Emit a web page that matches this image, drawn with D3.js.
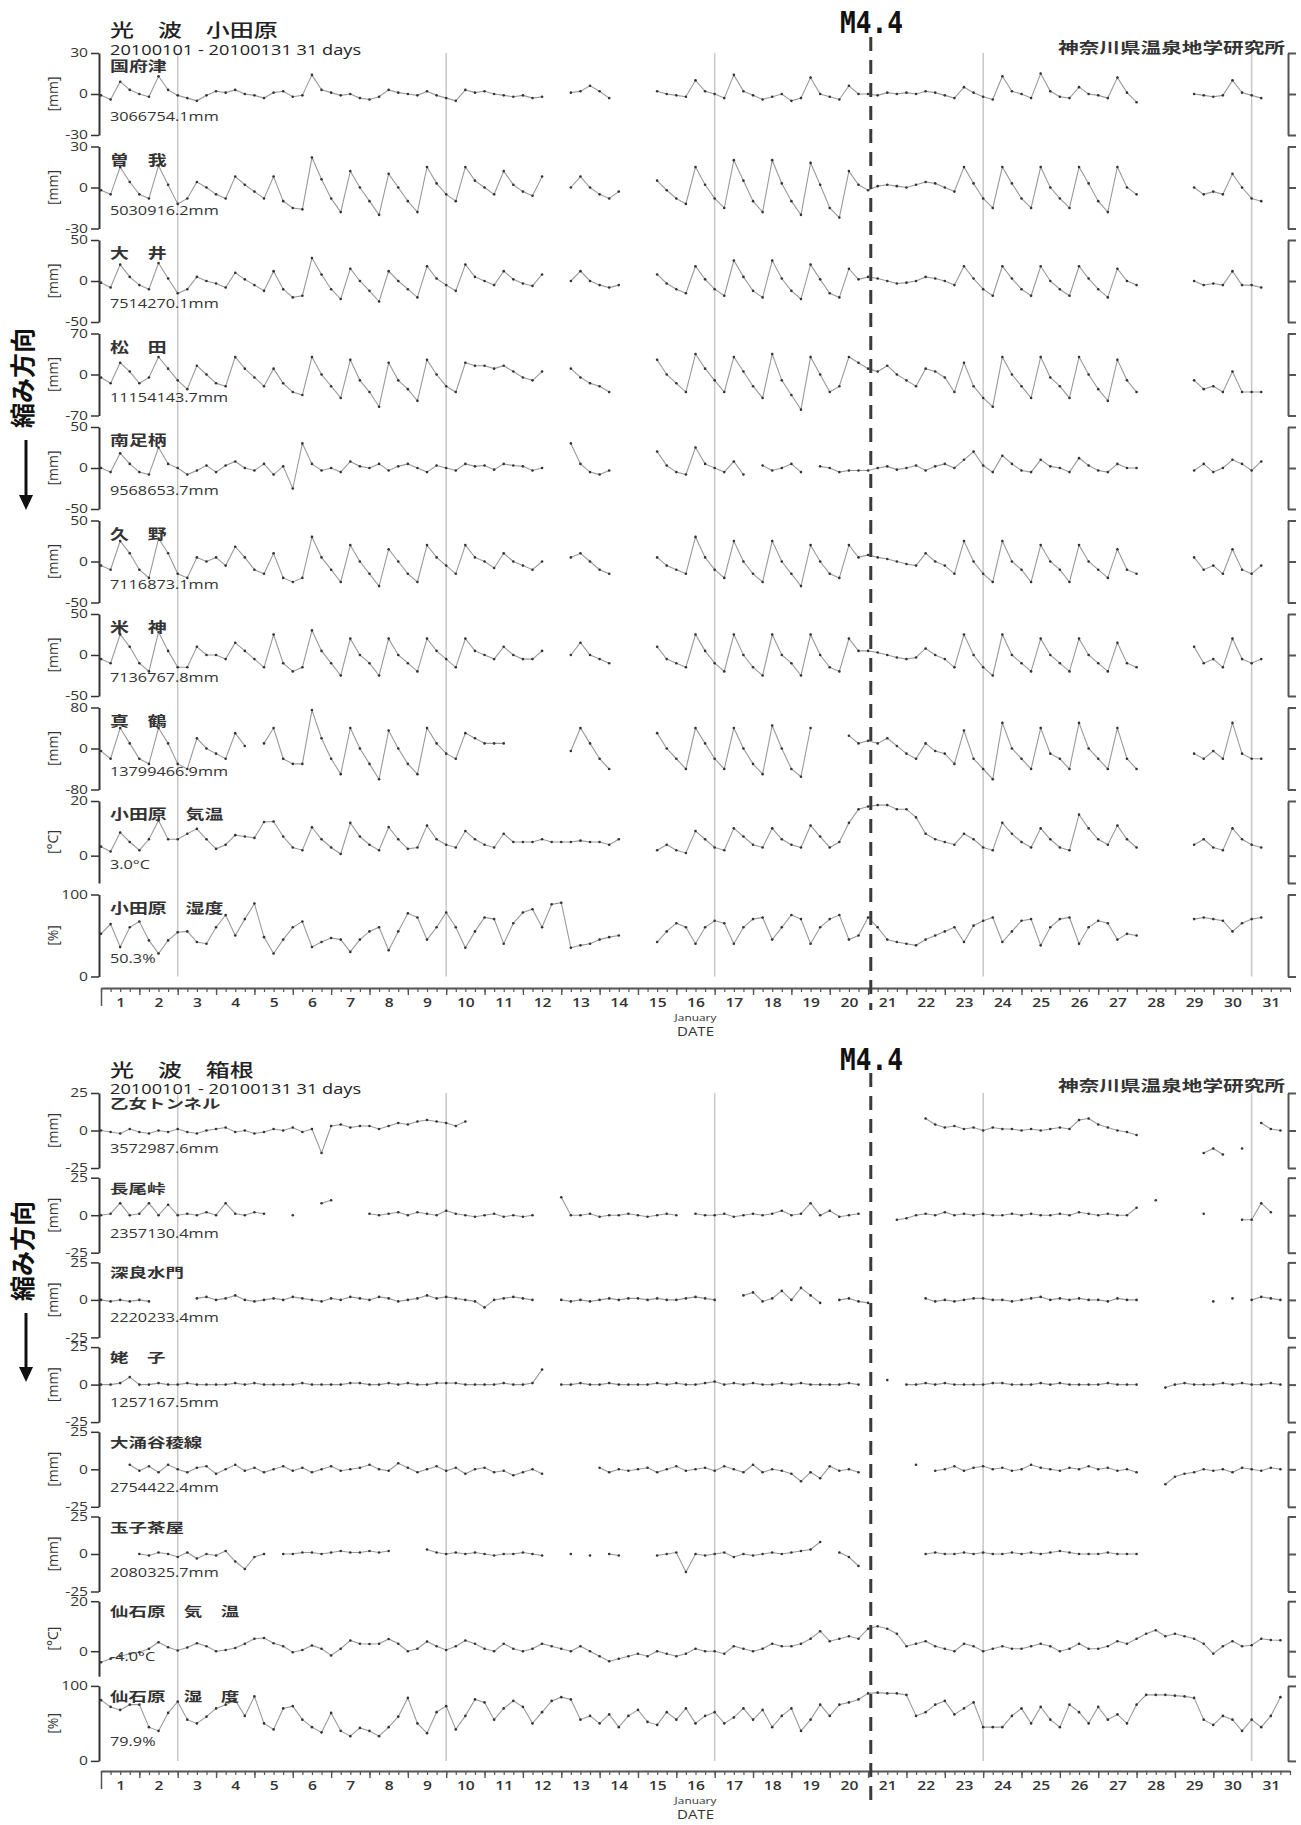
<!DOCTYPE html>
<html>
<head>
<meta charset="utf-8">
<script src="https://cdn.jsdelivr.net/npm/d3@7"></script>
<style>
body { margin: 0; background: #fff; }
svg { display: block; }
</style>
</head>
<body>
<svg id="chart"></svg>
<script>
const N = null;
// 4 samples a day (0h, 6h, 12h, 18h), 2010-01-01 .. 2010-01-31

// ---- 光波 小田原 ----
const kozu = [-1,-4,9,3, 0,-2,13,3, -1,-3,-5,-1, 2,1,3,0, -1,-3,1,2, -2,-1,14,3, 1,-1,0,-3, -4,-2,3,1,
  0,-1,2,-1, -3,-5,3,1, 2,0,-1,-2, -1,-3,-2,N, N,1,2,6, 2,-3,N,N, N,N,2,0, -1,-2,10,2,
  0,-3,14,2, -1,-4,-2,0, -5,-3,12,0, -2,-4,6,0, 0,-1,1,0, 1,0,2,1, -1,-3,5,1, -2,-4,13,2,
  0,-3,15,2, -2,-3,5,0, -1,-3,12,1, -6,N,N,N, N,N,0,-1, -2,-1,10,1, -1,-3,N,N];
const soga = [-2,-5,15,4, -5,-8,16,2, -12,-8,4,0, -5,-8,8,2, -3,-8,8,-10, -15,-16,22,6, -8,-18,12,0, -10,-20,10,0,
  -10,-18,15,3, -5,-10,15,5, 0,-5,12,2, -3,-6,8,N, N,0,8,0, -5,-8,-3,N, N,N,5,-2, -8,-12,15,2,
  -8,-15,20,5, -10,-18,20,3, -10,-20,18,2, -15,-22,12,2, -2,1,2,1, 0,2,4,3, 0,-3,15,3, -8,-15,15,3,
  -8,-15,15,0, -8,-15,15,3, -10,-18,15,0, -5,N,N,N, N,N,0,-5, -3,-5,10,0, -8,-10,N,N];
const ooi = [-2,-8,20,5, -5,-10,22,3, -15,-10,5,0, -3,-8,10,2, -5,-12,12,-10, -20,-18,28,8, -10,-22,15,0, -12,-25,12,0,
  -10,-20,18,3, -5,-12,20,5, 0,-5,12,2, -3,-6,8,N, N,0,12,0, -5,-8,-5,N, N,N,8,-3, -10,-15,18,2,
  -10,-18,25,5, -12,-20,25,3, -12,-22,20,2, -15,-20,15,2, 5,3,0,-3, -2,0,5,3, 0,-5,18,3, -10,-18,18,3,
  -10,-18,18,0, -10,-18,18,3, -10,-20,15,0, -5,N,N,N, N,N,0,-5, -3,-5,12,-5, -5,-8,N,N];
const matsuda = [-5,-15,20,5, -15,-5,30,10, -10,-25,15,0, -15,-20,30,10, -5,-20,10,-15, -30,-35,30,0, -20,-40,25,-10, -30,-55,20,-10,
  -25,-45,25,0, -20,-30,20,15, 15,10,15,5, -5,-10,5,N, N,10,-5,-15, -20,-30,N,N, N,N,25,0, -15,-30,35,10,
  -10,-30,30,5, -20,-40,35,-10, -35,-60,30,0, -30,-20,30,20, 10,5,15,0, -10,-20,10,5, -5,-30,20,-20, -40,-55,30,0,
  -20,-40,30,-5, -20,-40,30,0, -25,-45,25,-10, -30,N,N,N, N,N,-10,-25, -20,-30,5,-30, -30,-30,N,N];
const minami = [0,-5,18,5, -5,-8,25,5, 0,-8,-3,3, -5,3,8,0, -3,5,-8,2, -25,30,5,-3, 0,-5,8,2, 0,5,-3,2,
  5,0,-5,3, 0,-3,5,2, 3,-2,5,3, 2,-3,0,N, N,30,5,-5, -8,-3,N,N, N,N,20,3, -5,-8,25,5,
  0,-5,8,-8, N,3,-3,0, 5,-5,N,2, 0,-5,-3,-3, -3,0,2,-2, 0,3,-3,2, 5,0,10,20, 3,-5,15,5,
  -3,-5,10,2, 0,-5,12,3, -3,-5,5,0, 0,N,N,N, N,N,-3,5, -5,0,10,5, -3,8,N,N];
const kuno = [-5,-10,25,10, -10,-20,28,10, -15,-20,5,0, 5,-5,18,5, -10,-15,10,-20, -25,-20,30,5, -10,-25,20,0, -15,-30,15,0,
  -15,-25,20,5, -5,-15,20,5, 0,-8,10,0, -5,-10,0,N, N,5,10,0, -10,-15,N,N, N,N,5,-5, -10,-15,30,5,
  -10,-20,25,0, -15,-25,25,0, -15,-30,20,0, -15,-20,20,5, 8,5,3,0, -3,-5,10,0, -5,-15,25,0, -15,-25,25,0,
  -10,-25,20,0, -10,-25,20,0, -10,-20,15,-10, -15,N,N,N, N,N,5,-10, -5,-15,15,-10, -15,-5,N,N];
const komekami = [-5,-10,25,10, -10,-20,28,5, -15,-15,10,0, 0,-5,15,5, -5,-15,25,-10, -20,-15,30,5, -10,-25,20,0, -10,-25,20,0,
  -10,-20,20,5, -5,-15,20,5, 0,-5,10,0, -5,-5,5,N, N,0,15,0, -5,-10,N,N, N,N,10,-5, -10,-15,25,5,
  -10,-20,25,0, -15,-25,25,0, -10,-25,25,0, -15,-20,20,5, 5,3,0,-3, -5,-3,8,0, -5,-15,25,0, -15,-25,25,0,
  -10,-20,20,0, -10,-20,20,0, -10,-20,15,-10, -15,N,N,N, N,N,10,-10, -5,-15,20,-5, -10,-5,N,N];
const manazuru = [-5,-20,40,10, -20,-30,40,10, -30,-40,20,0, -10,-20,30,5, N,10,40,-20, -30,-30,75,20, -20,-50,40,0, -30,-60,35,0,
  -30,-50,40,10, -10,-20,30,20, 10,10,10,N, N,N,N,N, N,-5,40,10, -20,-40,N,N, N,N,30,0, -20,-40,40,10,
  -20,-40,40,0, -30,-50,45,0, -40,-55,40,N, N,N,25,10, 15,10,20,5, -10,-20,10,-5, -10,-30,35,-20, -40,-60,50,0,
  -20,-40,40,-10, -20,-40,50,0, -20,-40,40,-20, -40,N,N,N, N,N,-10,-20, -5,-20,50,-10, -20,-20,N,N];
const odaTemp = [3.3,1.5,8.5,5, 2,6,12.9,6, 6,8,9.8,6, 2.5,4,7.5,7, 6.5,12.3,12.5,7, 3,2,10.4,6, 3,0.6,12,7, 4,2,10.5,6,
  2.5,3,11,6, 4,3,9,6, 4,3,8,5, 5,5,6,5, 5,5,5.5,5, 5,4,6,N, N,N,2,4, 2,1,9,6,
  3,2,10,7, 4,3,10,6, 4,3,11,7, 3,5,12,17, 18,18.5,18.5,17, 17,14,8,6, 5,4,8,6, 3,2,12,8,
  5,3,10,6, 3,2,15,10, 6,4,11,6, 3,N,N,N, N,N,4,6, 3,2,10,6, 4,3,N,N];
const odaHum = [52,64,36,60, 67,44,28,44, 54,55,42,40, 60,75,50,70, 89,48,28,45, 60,67,36,42, 47,45,30,45, 55,60,32,55,
  77,72,45,60, 78,60,35,55, 72,70,40,65, 78,82,60,88, 90,35,38,40, 45,48,50,N, N,N,42,55, 65,60,40,60,
  68,65,40,60, 70,72,45,60, 75,70,40,60, 70,75,45,50, 72,60,45,42, 40,38,45,50, 55,60,42,62, 68,72,42,55,
  68,70,38,60, 70,72,40,60, 68,65,45,52, 50,N,N,N, N,N,70,72, 70,68,55,65, 70,72,N,N];

// ---- 光波 箱根 ----
const otome = [0,-1,-2,1, -1,-2,0,-1, 1,-1,-2,0, 1,2,-1,0, -2,-1,1,0, 2,-1,1,-15, 3,4,2,3, 3,1,3,5,
  4,6,7,6, 5,3,6,N, N,N,N,N, N,N,N,N, N,N,N,N, N,N,N,N, N,N,N,N, N,N,N,N,
  N,N,N,N, N,N,N,N, N,N,N,N, N,N,N,N, N,N,N,N, N,N,8,4, 2,3,1,2, 0,2,1,1,
  0,1,0,1, 2,1,7,8, 4,2,0,-1, -3,N,N,N, N,N,N,-15, -12,-16,N,-12, N,5,1,0];
const nagao = [0,1,8,0, 1,8,0,7, 0,1,0,2, 0,8,1,0, 2,1,N,N, 0,N,N,8, 10,N,N,N, 1,0,1,2,
  0,2,1,0, 3,1,0,-1, 0,1,-1,0, -1,0,N,N, 12,0,0,1, -1,0,0,1, 0,-1,0,1, 0,N,1,0,
  0,1,-1,0, 1,0,1,3, 0,1,8,0, 3,-1,0,1, N,N,N,-3, -2,0,1,0, 2,0,1,0, 1,0,0,1,
  0,1,0,0, 1,0,2,1, 0,1,0,0, 5,N,10,N, N,N,N,1, N,N,N,-3, -3,8,2,N];
const fukara = [0,-1,0,-1, 0,-1,N,N, N,N,1,2, 0,1,3,0, -1,0,1,0, 2,1,0,-1, 1,0,2,1, 0,2,1,-1,
  0,1,3,1, 2,1,0,-1, -5,0,1,2, 1,0,N,N, 0,-1,0,-1, 0,1,0,1, 1,0,1,0, 0,1,2,1,
  0,N,N,3, 5,-1,1,6, 0,8,3,-2, N,0,1,-1, -2,N,N,N, N,N,1,-1, 0,-1,0,1, 1,0,0,-1,
  0,1,2,0, 1,0,1,0, 0,-1,1,0, 0,N,N,N, N,N,N,N, -1,N,1,N, 0,2,1,0];
const ubako = [0,0,1,5, 0,0,1,0, 0,1,0,0, 0,0,1,0, 1,0,0,0, 0,1,0,0, 0,0,1,1, 0,0,1,0,
  1,0,0,1, 1,1,0,0, 0,0,1,0, 0,1,10,N, 0,0,1,0, 0,1,0,0, 0,0,1,0, 1,0,0,1,
  2,0,1,0, 1,0,0,1, 0,1,0,0, 0,0,1,0, N,N,3,N, 0,0,1,0, 1,0,0,0, 0,1,1,0,
  0,0,1,0, 1,0,0,0, 0,1,0,0, 0,N,N,-2, 0,1,0,0, 0,1,0,1, 0,0,1,0];
const owaku = [N,N,N,3, -1,2,-2,3, 0,-2,1,2, -3,0,3,-1, 1,-2,0,2, -1,1,-2,0, 2,-1,0,1, 3,0,-1,4,
  1,-2,0,2, -1,1,-3,0, 1,-2,-1,-4, -2,0,-3,N, N,N,N,N, 1,-2,0,-1, 0,1,-2,0, 2,-1,0,1,
  -1,2,0,-2, 3,-2,0,-1, -3,-8,-2,-6, 2,-1,0,-2, N,N,N,N, N,3,N,-1, 0,2,-1,1, 2,0,1,-1,
  0,3,1,0, -1,1,0,2, 0,1,-1,0, -2,N,N,-10, -5,-3,-2,0, -1,0,-2,1, 0,-1,1,0];
const tamago = [N,N,N,N, 0,-1,1,0, -2,1,-3,0, -1,2,-5,-10, -2,0,N,0, 0,1,1,0, 1,2,1,1, 2,1,2,N,
  N,N,3,1, 0,1,0,1, 0,-1,0,0, 1,0,-1,N, N,0,N,-1, N,0,-1,N, N,N,-1,0, 1,-12,0,-1,
  0,1,-2,0, -1,0,1,0, 1,2,3,8, N,1,-2,-8, N,N,N,N, N,N,0,1, 0,0,1,0, 1,0,0,1,
  0,1,0,1, 2,1,0,0, 0,1,0,0, 0,N,N,N, N,N,N,N, N,N,N,N, N,N,N,N];
const sengTemp = [-4.4,-3,-2,-1, -0.4,1,3.6,1.6, 0.3,1.5,3.2,2, 0,0.5,1.3,3, 5,5.3,3.2,2, -0.4,0.5,2.3,1, -1.7,1,4.3,3, 2.9,3,4.9,3,
  0,1,3.9,2, 0.5,2,4.3,3, 1,0,3,1, 0,1,3,2, 1,0,2,0, -2,-4,-3,-2, -1,-2,0,-1, -2,-1,1,0,
  0,-1,2,1, 0,1,3,2, 2,3,5,8, 4,5,6,5, 9,10,9,7, 2,3,4,2, 1,0,3,2, 0,1,2,1,
  1,2,3,2, 0,1,3,1, 1,2,4,3, 5,7,8.4,6, 7,6,5,3, -1,2,4,2, 2.4,5,4.5,4.4];
const sengHum = [81,72,68,75, 75,45,40,64, 79,55,50,59, 70,75,81,60, 86,50,42,70, 73,55,45,38, 64,40,33,44, 40,33,45,59,
  84,50,37,65, 73,42,60,82, 78,55,70,80, 72,50,65,80, 85,82,55,60, 50,62,45,60, 68,52,48,65, 55,70,50,60,
  65,50,58,70, 55,68,45,60, 70,40,55,75, 60,75,78,82, 90,91,90,90, 88,60,65,75, 80,62,70,78, 45,45,45,60,
  70,50,72,55, 45,75,65,50, 72,55,62,50, 75,88,88,88, 87,86,84,55, 48,60,55,40, 55,45,60,85];

const odaNames = ["国府津", "曽　我", "大　井", "松　田", "南足柄", "久　野", "米　神", "真　鶴", "小田原　気温", "小田原　湿度"];
const odaValues = ["3066754.1mm", "5030916.2mm", "7514270.1mm", "11154143.7mm", "9568653.7mm", "7116873.1mm", "7136767.8mm", "13799466.9mm", "3.0°C", "50.3%"];
const odaUnits = ["[mm]", "[mm]", "[mm]", "[mm]", "[mm]", "[mm]", "[mm]", "[mm]", "[°C]", "[%]"];
const odaDomains = [[-30, 30], [-30, 30], [-50, 50], [-70, 70], [-50, 50], [-50, 50], [-50, 50], [-80, 80], [-10, 20], [0, 100]];
const odaTicks = [[-30, 0, 30], [-30, 0, 30], [-50, 0, 50], [-70, 0, 70], [-50, 0, 50], [-50, 0, 50], [-50, 0, 50], [-80, 0, 80], [0, 20], [0, 100]];

const hakNames = ["乙女トンネル", "長尾峠", "深良水門", "姥　子", "大涌谷稜線", "玉子茶屋", "仙石原　気　温", "仙石原　湿　度"];
const hakValues = ["3572987.6mm", "2357130.4mm", "2220233.4mm", "1257167.5mm", "2754422.4mm", "2080325.7mm", "-4.0°C", "79.9%"];
const hakUnits = ["[mm]", "[mm]", "[mm]", "[mm]", "[mm]", "[mm]", "[°C]", "[%]"];
const hakDomains = [[-25, 25], [-25, 25], [-25, 25], [-25, 25], [-25, 25], [-25, 25], [-10, 20], [0, 100]];
const hakTicks = [[-25, 0, 25], [-25, 0, 25], [-25, 0, 25], [-25, 0, 25], [-25, 0, 25], [-25, 0, 25], [0, 20], [0, 100]];

const dayLabels = d3.range(1, 32);
const sundayLines = [2, 9, 16, 23, 30];   // days after Jan 1 00:00
const quakeDay = 20.07;                   // M4.4
const quakeLabel = "M4.4";
const instituteName = "神奈川県温泉地学研究所";
const periodText = "20100101 - 20100131 31 days";

const W = 1301, H = 1825;
const jp = "'Noto Sans CJK JP', sans-serif";
const en = "'Open Sans', sans-serif";

const svg = d3.select("#chart").attr("width", W).attr("height", H);
svg.append("rect").attr("width", W).attr("height", H).attr("fill", "#fff");

const x = d3.scaleLinear().domain([0, 31]).range([101, 1290]);

// widen text like the original scan
function stretch(sel, k) {
  sel.each(function () {
    const len = this.getComputedTextLength();
    d3.select(this).attr("textLength", len * k).attr("lengthAdjust", "spacingAndGlyphs");
  });
  return sel;
}

function addText(g, tx, ty, str, size, family, k, opts = {}) {
  const t = g.append("text")
    .attr("x", tx).attr("y", ty)
    .style("font-family", family)
    .style("font-size", size + "px")
    .style("font-weight", opts.weight || 400)
    .attr("fill", opts.fill || "#222")
    .attr("text-anchor", opts.anchor || "start")
    .text(str);
  return stretch(t, k);
}

function drawChart(c) {
  const g = svg.append("g");
  const n = c.series.length;
  const bottom = c.top0 + (n - 1) * c.step + c.h;

  // weekly grid lines
  g.append("g").selectAll("line").data(sundayLines).join("line")
    .attr("x1", d => x(d)).attr("x2", d => x(d))
    .attr("y1", c.top0).attr("y2", bottom)
    .attr("stroke", "#c8c8c8").attr("stroke-width", 1.5);

  c.series.forEach((data, i) => {
    const top = c.top0 + i * c.step;
    const y = d3.scaleLinear().domain(c.domains[i]).range([top + c.h, top]);

    const left = g.append("g").attr("transform", "translate(99,0)")
      .call(d3.axisLeft(y).tickValues(c.ticks[i]).tickSize(8).tickSizeOuter(0).tickPadding(3).tickFormat(d => String(d)));
    left.select(".domain").attr("stroke", "#333").attr("stroke-width", 2);
    left.selectAll(".tick line").attr("stroke", "#333").attr("stroke-width", 1.5);
    left.selectAll("text").style("font-family", en).style("font-size", "12px").attr("fill", "#333")
      .each(function () { stretch(d3.select(this), 1.3); });

    const dom = c.domains[i];
    const rt = Array.from(new Set([dom[0], 0, dom[1]]));
    const right = g.append("g").attr("transform", "translate(1288,0)")
      .call(d3.axisRight(y).tickValues(rt).tickSize(8).tickSizeOuter(0).tickFormat(""));
    right.select(".domain").attr("stroke", "#555").attr("stroke-width", 2);
    right.selectAll(".tick line").attr("stroke", "#555").attr("stroke-width", 2);

    g.append("text")
      .attr("transform", `translate(52,${top + c.h / 2}) rotate(-90)`)
      .attr("text-anchor", "middle").attr("dominant-baseline", "central")
      .style("font-family", en).style("font-size", "14px").attr("fill", "#333")
      .text(c.units[i]);

    const pts = data.map((v, k) => ({ t: k / 4, v }));
    const line = d3.line().defined(d => d.v !== null).x(d => x(d.t)).y(d => y(d.v));
    g.append("path").datum(pts).attr("d", line)
      .attr("fill", "none").attr("stroke", "#9a9a9a").attr("stroke-width", 1.1);
    g.append("g").selectAll("circle").data(pts.filter(d => d.v !== null)).join("circle")
      .attr("cx", d => x(d.t)).attr("cy", d => y(d.v)).attr("r", 1.3).attr("fill", "#333");

    addText(g, 110, top + c.nameDy, c.names[i], c.nameSize, jp, c.nameK, { weight: 700, fill: "#333" });
    addText(g, 110, top + c.valueDy, c.values[i], 12.5, en, 1.3, { fill: "#333" });
  });

  // date axis
  const ax = g.append("g").attr("transform", `translate(0,${c.axisY})`);
  ax.call(d3.axisBottom(x).tickValues(d3.range(0, 125).map(k => k / 4)).tickSize(4).tickSizeOuter(0).tickFormat(""));
  ax.select(".domain").attr("stroke", "#555").attr("stroke-width", 2);
  ax.selectAll(".tick line").attr("stroke", "#555").attr("stroke-width", 1.2);
  const dayAx = g.append("g").attr("transform", `translate(0,${c.axisY})`)
    .call(d3.axisBottom(x).tickValues(d3.range(1, 31)).tickSize(7).tickFormat(""));
  dayAx.select(".domain").remove();
  dayAx.selectAll(".tick line").attr("stroke", "#555").attr("stroke-width", 1.4);
  const startAx = g.append("g").attr("transform", `translate(0,${c.axisY})`)
    .call(d3.axisBottom(x).tickValues([0]).tickSize(18).tickFormat(""));
  startAx.select(".domain").remove();
  startAx.selectAll(".tick line").attr("stroke", "#555").attr("stroke-width", 1.5);
  const lab = g.append("g").attr("transform", `translate(0,${c.axisY})`)
    .call(d3.axisBottom(x).tickValues(dayLabels.map(d => d - 0.5)).tickSize(0).tickPadding(10).tickFormat(d => Math.round(d + 0.5)));
  lab.select(".domain").remove();
  lab.selectAll("text").style("font-family", en).style("font-size", "12px").style("font-weight", 600).attr("fill", "#333")
    .each(function () { stretch(d3.select(this), 1.3); });

  addText(g, x(15.5), c.axisY + 33, "January", 9.5, en, 1.25, { anchor: "middle", fill: "#333" });
  addText(g, x(15.5), c.axisY + 48, "DATE", 12.5, en, 1.2, { anchor: "middle", fill: "#333" });

  // header
  addText(g, 110, c.titleY, c.title, 18, jp, 1.33, { weight: 500, fill: "#222" });
  addText(g, 110, c.subY, periodText, 14, en, 1.3, { fill: "#222" });
  g.append("text").attr("x", 1285).attr("y", c.instY).attr("text-anchor", "end")
    .style("font-family", jp).style("font-size", "15px").style("font-weight", 700).attr("fill", "#333")
    .attr("textLength", 227).attr("lengthAdjust", "spacingAndGlyphs").text(instituteName);

  // earthquake marker
  g.append("line").attr("x1", x(quakeDay)).attr("x2", x(quakeDay))
    .attr("y1", c.dash[0]).attr("y2", c.dash[1])
    .attr("stroke", "#3a3a3a").attr("stroke-width", 3).attr("stroke-dasharray", "14,9");
  g.append("text").attr("x", 840).attr("y", c.quakeY)
    .style("font-family", "'DejaVu Sans Mono', monospace").style("font-size", "30px").style("font-weight", 700)
    .attr("fill", "#111").attr("textLength", 63).attr("lengthAdjust", "spacingAndGlyphs").text(quakeLabel);

  // compression direction
  g.append("text")
    .attr("transform", `translate(21,${c.arrow[0] - 62}) rotate(-90)`)
    .attr("text-anchor", "middle").attr("dominant-baseline", "central")
    .style("font-family", jp).style("font-size", "25px").style("font-weight", 700).attr("fill", "#111")
    .text("縮み方向");
  g.append("line").attr("x1", 26).attr("x2", 26).attr("y1", c.arrow[0]).attr("y2", c.arrow[1] - 12)
    .attr("stroke", "#111").attr("stroke-width", 3);
  g.append("path")
    .attr("d", `M19,${c.arrow[1] - 15}L33,${c.arrow[1] - 15}L26,${c.arrow[1]}Z`)
    .attr("fill", "#111");
}

drawChart({
  series: [kozu, soga, ooi, matsuda, minami, kuno, komekami, manazuru, odaTemp, odaHum],
  names: odaNames, values: odaValues, units: odaUnits, domains: odaDomains, ticks: odaTicks,
  top0: 53, step: 93.5, h: 82, axisY: 988,
  nameDy: 18, valueDy: 68, nameSize: 14, nameK: 1.35,
  title: "光　波　小田原", titleY: 37, subY: 55, instY: 53,
  dash: [37, 1010], quakeY: 33, arrow: [440, 510]
});

drawChart({
  series: [otome, nagao, fukara, ubako, owaku, tamago, sengTemp, sengHum],
  names: hakNames, values: hakValues, units: hakUnits, domains: hakDomains, ticks: hakTicks,
  top0: 1093, step: 84.7, h: 75, axisY: 1771,
  nameDy: 15, valueDy: 60, nameSize: 13, nameK: 1.42,
  title: "光　波　箱根", titleY: 1077, subY: 1094, instY: 1091,
  dash: [1073, 1804], quakeY: 1070, arrow: [1313, 1382]
});
</script>
</body>
</html>
